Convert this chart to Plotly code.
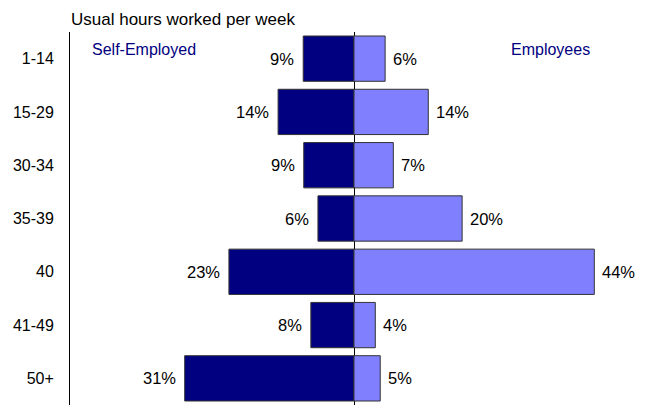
import plotly.graph_objects as go

categories = ["1-14", "15-29", "30-34", "35-39", "40", "41-49", "50+"]
self_employed = [9.3, 13.9, 9.2, 6.6, 22.9, 7.9, 31.0]
employees = [5.7, 13.6, 7.2, 19.8, 44.0, 3.9, 4.8]
self_labels = ["9%", "14%", "9%", "6%", "23%", "8%", "31%"]
emp_labels = ["6%", "14%", "7%", "20%", "44%", "4%", "5%"]

FONT = "Liberation Sans, Arial, sans-serif"

fig = go.Figure()
fig.add_trace(go.Bar(
    y=categories, x=[-v for v in self_employed], orientation="h",
    marker=dict(color="#000080", line=dict(color="#333333", width=1)),
    width=0.85, name="Self-Employed", showlegend=False, hoverinfo="skip"))
fig.add_trace(go.Bar(
    y=categories, x=employees, orientation="h",
    marker=dict(color="#8080FF", line=dict(color="#333333", width=1)),
    width=0.85, name="Employees", showlegend=False, hoverinfo="skip"))

annotations = []
for i, (v, t) in enumerate(zip(self_employed, self_labels)):
    annotations.append(dict(x=-v, y=i, xref="x", yref="y", text=t, showarrow=False,
                            xanchor="right", xshift=-7, font=dict(size=16.5, color="#000000", family=FONT)))
for i, (v, t) in enumerate(zip(employees, emp_labels)):
    annotations.append(dict(x=v, y=i, xref="x", yref="y", text=t, showarrow=False,
                            xanchor="left", xshift=6, font=dict(size=16.5, color="#000000", family=FONT)))

annotations.append(dict(x=-1/568, y=1.0, xref="paper", yref="paper", yshift=13, text="Usual hours worked per week",
                        showarrow=False, xanchor="left", yanchor="middle",
                        font=dict(size=17, color="#000000", family=FONT)))
annotations.append(dict(x=20/568, y=(373-17)/373, xref="paper", yref="paper", text="Self-Employed",
                        showarrow=False, xanchor="left", yanchor="middle",
                        font=dict(size=16, color="#000080", family=FONT)))
annotations.append(dict(x=(550-70)/568, y=(373-17)/373, xref="paper", yref="paper", text="Employees",
                        showarrow=False, xanchor="center", yanchor="middle",
                        font=dict(size=16, color="#000080", family=FONT)))

fig.update_layout(
    width=647, height=405,
    margin=dict(l=70, r=9, t=32, b=0),
    barmode="overlay",
    plot_bgcolor="white", paper_bgcolor="white",
    font=dict(family=FONT, size=16, color="#000000"),
    annotations=annotations,
    xaxis=dict(range=[-52, 52], showgrid=False, showticklabels=False, zeroline=True,
               zerolinecolor="#000000", zerolinewidth=1, showline=False, fixedrange=True),
    yaxis=dict(type="category", categoryorder="array", categoryarray=categories,
               range=[len(categories) - 0.5, -0.5],
               showline=True, linecolor="#000000", linewidth=1, showgrid=False,
               ticks="", ticklabelstandoff=12, tickfont=dict(size=16, family=FONT, color="#000000")),
)

fig.write_html("out.html")
